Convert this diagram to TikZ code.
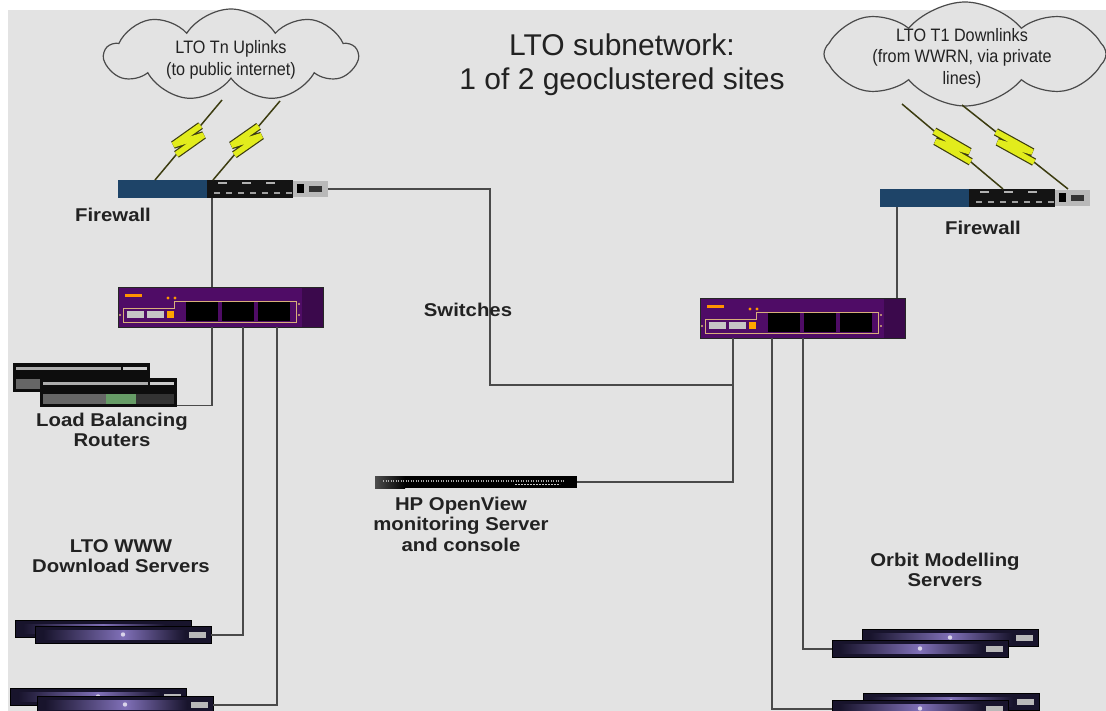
\documentclass[tikz,border=0pt]{standalone}
\usepackage{fontspec}
\setmainfont{Liberation Sans}
\newfontfamily\lblfont[FakeStretch=1.1]{Liberation Sans}
\newfontfamily\cloudfont[FakeStretch=0.9]{Liberation Sans}
\usetikzlibrary{shapes.symbols,calc}

\definecolor{bggray}{HTML}{E3E3E3}
\definecolor{wire}{HTML}{4A4A4A}
\definecolor{fwblue}{HTML}{1E4468}
\definecolor{swpurple}{HTML}{4F0C66}
\definecolor{swtan}{HTML}{D8B07A}
\definecolor{boltyel}{HTML}{E2EC1C}
\definecolor{boltrim}{HTML}{3C3C10}
\definecolor{srvdark}{HTML}{18142C}
\definecolor{srvmid}{HTML}{8070B8}
\definecolor{txt}{HTML}{222222}

\tikzset{
  cloudbox/.style={cloud, cloud puffs=9, cloud puff arc=115, cloud ignores aspect,
    draw=wire, line width=1.2pt, fill=bggray, inner sep=0pt},
  cloudtxt/.style={font=\cloudfont\fontsize{18}{21.5}\selectfont, text=txt, align=center, inner sep=0pt},
  lbl/.style={font=\lblfont\bfseries\fontsize{18.5}{20.5}\selectfont, text=txt, align=center, inner sep=0pt},
  titletxt/.style={font=\fontsize{30}{34}\selectfont, text=txt, align=center, inner sep=0pt},
  link/.style={draw=wire, line width=1.6pt},
  boltwire/.style={draw=boltrim, line width=1.5pt},
  devbox/.style={inner sep=0pt, anchor=north west, minimum width=#1},
  % firewall appliance: blue panel, black port section, grey end
  pics/firewall/.style={code={
    \fill[fwblue] (0,0) rectangle (89,18);
    \fill[black!92] (89,0) rectangle (175,18);
    \foreach \xx in {96,108,...,168} \fill[gray!75] (\xx,12) rectangle ++(6,2);
    \foreach \xx in {100,124,148} \fill[gray!60] (\xx,2) rectangle ++(9,2);
    \fill[gray!55] (175,1) rectangle (210,17);
    \fill[black] (179,4) rectangle (186,13);
    \fill[black!80] (191,6) rectangle (204,12);
    \node[devbox=210pt, minimum height=18pt] (-box) at (0,0) {};
  }},
  % purple switch with framed port block
  pics/switch/.style={code={
    \fill[swpurple] (0,0) rectangle (205,40);
    \fill[swpurple!75!black] (184,0) rectangle (205,40);
    \fill[orange!85!yellow] (7,7) rectangle (24,10);
    \fill[black] (68,15) rectangle (100,34);
    \fill[black] (104,15) rectangle (136,34);
    \fill[black] (140,15) rectangle (172,34);
    \fill[gray!45] (9,24) rectangle (26,31);
    \fill[gray!45] (29,24) rectangle (46,31);
    \fill[orange!70!yellow] (49,24) rectangle (56,31);
    \draw[swtan, line width=0.8pt] (5,21) -- (5,35) -- (178,35) -- (178,14) -- (56,14) -- (56,21) -- cycle;
    \fill[orange!80!yellow] (50,11) circle (1.6) (57,11) circle (1.6);
    \fill[swtan] (2,28) circle (1.2) (181,28) circle (1.2) (181,17) circle (1.2);
    \draw[black!85, line width=0.8pt] (0,0) rectangle (205,40);
    \node[devbox=205pt, minimum height=40pt] (-box) at (0,0) {};
  }},
  % 1U load balancing router
  pics/lbrouter/.style={code={
    \fill[black!95] (0,0) rectangle (137,29);
    \fill[gray!65] (3,4) rectangle (108,7);
    \fill[gray!40] (110,4) rectangle (134,7);
    \fill[gray!50!black!80] (3,16) rectangle (66,26);
    \fill[green!35!black!60] (66,16) rectangle (96,26);
    \fill[gray!40!black] (96,16) rectangle (134,26);
    \node[devbox=137pt, minimum height=29pt] (-box) at (0,0) {};
  }},
  % 1U rack server
  pics/server/.style={code={
    \fill[srvdark] (0,0) rectangle (176,17);
    \shade[left color=srvdark, right color=srvmid] (8,4) rectangle (88,13);
    \shade[left color=srvmid, right color=srvdark] (88,4) rectangle (150,13);
    \fill[white!70!srvmid] (88,8.5) circle (2.2);
    \fill[gray!55] (154,6) rectangle (171,12);
    \draw[black, line width=0.8pt] (0,0) rectangle (176,17);
    \node[devbox=176pt, minimum height=17pt] (-box) at (0,0) {};
  }},
  % thin monitoring server
  pics/hpserver/.style={code={
    \fill[black] (0,0) rectangle (202,12);
    \shade[left color=gray!60!black, right color=black] (0,0) rectangle (30,12);
    \draw[gray!65, dash pattern=on 1pt off 1.5pt, line width=1.2pt] (8,5) -- (190,5);
    \draw[gray!45, dash pattern=on 2pt off 1pt, line width=1pt] (140,8) -- (185,8);
    \node[devbox=202pt, minimum height=12pt] (-box) at (0,0) {};
  }}
}

% lightning link: dark line with a yellow zig-zag in the middle
\newcommand\drawbolt[3]{%
  \draw[boltwire] (#1) -- ($(#1)!0.32!(#2)$);
  \draw[boltwire] ($(#1)!0.68!(#2)$) -- (#2);
  \path ($(#1)!0.32!(#2)$) coordinate (bz1)
        ($(#1)!0.56!(#2)+(#3,0)$) coordinate (bz2)
        ($(#1)!0.44!(#2)+(-#3,0)$) coordinate (bz3)
        ($(#1)!0.68!(#2)$) coordinate (bz4);
  \draw[boltrim, line width=8pt, line join=miter, miter limit=4] (bz1) -- (bz2) -- (bz3) -- (bz4);
  \draw[boltyel, line width=5.6pt, line join=miter, miter limit=4] (bz1) -- (bz2) -- (bz3) -- (bz4);
}

\begin{document}
\begin{tikzpicture}[x=1pt,y=-1pt]
  % canvas
  \fill[white] (0,0) rectangle (1106,711);
  \fill[bggray] (8,10) rectangle (1106,711);
  \useasboundingbox (0,0) rectangle (1106,711);

  % title
  \node[titletxt] (ttl) at (622,65) {LTO subnetwork:\\1 of 2 geoclustered sites};

  % clouds
  \node[cloudbox, minimum width=252pt, minimum height=92pt] (cloudL) at (231,55) {};
  \node[cloudtxt] (cloudLtxt) at (231,60) {LTO Tn Uplinks\\(to public internet)};
  \node[cloudbox, cloud puffs=8, cloud puff arc=100, minimum width=282pt, minimum height=104pt] (cloudR) at (965,54) {};
  \node[cloudtxt] (cloudRtxt) at (962,58) {LTO T1 Downlinks\\(from WWRN, via private\\lines)};

  % devices
  \pic (fwL) at (118,180) {firewall};
  \pic (fwR) at (880,189) {firewall};
  \pic (swL) at (118,287) {switch};
  \pic (swR) at (700,298) {switch};
  \pic (lbB) at (13,363) {lbrouter};
  \pic (lbF) at (40,378) {lbrouter};
  \pic (wwwB1) at (15,620) {server};
  \pic (wwwF1) at (35,626) {server};
  \pic (wwwB2) at (10,688) {server};
  \pic (wwwF2) at (37,696) {server};
  \pic (orbB1) at (862,629) {server};
  \pic (orbF1) at (832,640) {server};
  \pic (orbB2) at (863,693) {server};
  \pic (orbF2) at (832,700) {server};
  \pic (hp) at (375,476) {hpserver};

  % lightning links between clouds and firewalls
  \coordinate (bL1a) at (222,100); \coordinate (bL1b) at (155,180);
  \coordinate (bL2a) at (280,101); \coordinate (bL2b) at (213,180);
  \coordinate (bR1a) at (902,104); \coordinate (bR1b) at (1003,189);
  \coordinate (bR2a) at (962,105); \coordinate (bR2b) at (1068,189);
  \drawbolt{bL1a}{bL1b}{-11}
  \drawbolt{bL2a}{bL2b}{-11}
  \drawbolt{bR1a}{bR1b}{11}
  \drawbolt{bR2a}{bR2b}{11}

  % port positions
  \coordinate (lp0) at (212,0);
  \coordinate (lp1) at (243,0);
  \coordinate (lp2) at (277,0);
  \coordinate (rp0) at (897,0);
  \coordinate (rp1) at (733,0);
  \coordinate (rp2) at (772,0);
  \coordinate (rp3) at (803,0);
  \coordinate (bend) at (490,385);

  % cabling
  \draw[link] (fwL-box.east) -| (bend) -- (bend -| rp1);
  \draw[link] (lp0 |- fwL-box.south) -- (lp0 |- swL-box.north);
  \draw[link] (lp0 |- swL-box.south) |- ($(lbF-box.south east)+(0,-2)$);
  \draw[link] (lp1 |- swL-box.south) |- (wwwF1-box.east);
  \draw[link] (lp2 |- swL-box.south) |- (wwwF2-box.east);
  \draw[link] (rp0 |- fwR-box.south) -- (rp0 |- swR-box.north);
  \draw[link] (rp1 |- swR-box.south) |- (hp-box.east);
  \draw[link] (rp2 |- swR-box.south) |- (orbF2-box.west);
  \draw[link] (rp3 |- swR-box.south) |- (orbF1-box.west);

  % labels
  \node[lbl] (lblFwL) at (113,215) {Firewall};
  \node[lbl] (lblFwR) at (983,228) {Firewall};
  \node[lbl] (lblSw) at (468,310) {Switches};
  \node[lbl] (lblLB) at (112,430) {Load Balancing\\Routers};
  \node[lbl] (lblWWW) at (121,556) {LTO WWW\\Download Servers};
  \node[lbl] (lblHP) at (461,524) {HP OpenView\\monitoring Server\\and console};
  \node[lbl] (lblOrb) at (945,570) {Orbit Modelling\\Servers};
\end{tikzpicture}
\end{document}
